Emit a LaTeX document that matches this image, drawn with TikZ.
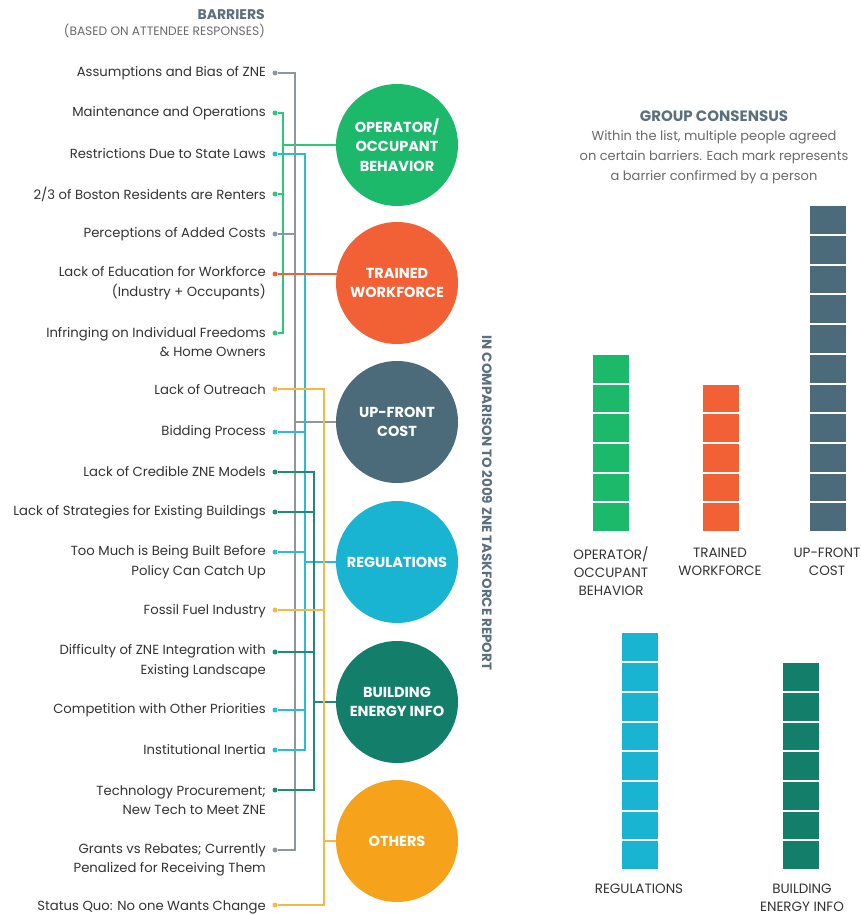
\documentclass[tikz,border=0pt]{standalone}
\usepackage{fontspec}
\setmainfont{Poppins}
\usetikzlibrary{backgrounds}
\definecolor{cgreen}{HTML}{1DB96B}
\definecolor{cred}{HTML}{F26035}
\definecolor{cslate}{HTML}{4B6A7A}
\definecolor{ccyan}{HTML}{19B4D1}
\definecolor{cteal}{HTML}{137F6B}
\definecolor{corange}{HTML}{F6A31B}
\definecolor{lgray}{HTML}{8D979D}
\definecolor{lgreen}{HTML}{2DC97A}
\definecolor{lcyan}{HTML}{2ABBD6}
\definecolor{lteal}{HTML}{1F8C78}
\definecolor{lorange}{HTML}{F8B848}
\definecolor{txt}{HTML}{333333}
\definecolor{head}{HTML}{5B6F7D}
\definecolor{sub}{HTML}{6A6A6A}
\begin{document}
\begin{tikzpicture}[x=1pt,y=-1pt,
  lbl/.style={font=\fontsize{13.2}{19.5}\selectfont, text=txt, align=right, anchor=east, inner sep=0pt},
  dotm/.style={circle, fill=#1, inner sep=0pt, minimum size=5pt},
  circ/.style={circle, fill=#1, minimum size=122pt, inner sep=0pt, text=white, font=\bfseries\fontsize{14.5}{19.5}\selectfont, align=center},
  conn/.style={line width=1.5pt, draw=#1},
  barlbl/.style={font=\fontsize{13.5}{18}\selectfont, text=txt, align=center, inner sep=0pt}]
\useasboundingbox (0,0) rectangle (861,915);

% header
\node[anchor=east, inner sep=0pt, text=head, font=\bfseries\fontsize{14}{15}\selectfont] (hbar) at (265,15) {BARRIERS};
\node[anchor=east, inner sep=0pt, text=sub, font=\fontsize{12.2}{13}\selectfont] (hsub) at (265,31) {(BASED ON ATTENDEE RESPONSES)};

% labels
\node[lbl] (l1) at (266,73) {Assumptions and Bias of ZNE};
\node[lbl] (l2) at (266,113) {Maintenance and Operations};
\node[lbl] (l3) at (266,154) {Restrictions Due to State Laws};
\node[lbl] (l4) at (266,194) {2/3 of Boston Residents are Renters};
\node[lbl] (l5) at (266,234) {Perceptions of Added Costs};
\node[lbl] (l6) at (266,283) {Lack of Education for Workforce\\(Industry + Occupants)};
\node[lbl] (l7) at (266,342) {Infringing on Individual Freedoms\\\& Home Owners};
\node[lbl] (l8) at (266,390) {Lack of Outreach};
\node[lbl] (l9) at (266,432) {Bidding Process};
\node[lbl] (l10) at (266,472) {Lack of Credible ZNE Models};
\node[lbl] (l11) at (266,512) {Lack of Strategies for Existing Buildings};
\node[lbl] (l12) at (266,562) {Too Much is Being Built Before\\Policy Can Catch Up};
\node[lbl] (l13) at (266,611) {Fossil Fuel Industry};
\node[lbl] (l14) at (266,661) {Difficulty of ZNE Integration with\\Existing Landscape};
\node[lbl] (l15) at (266,710) {Competition with Other Priorities};
\node[lbl] (l16) at (266,750) {Institutional Inertia};
\node[lbl] (l17) at (266,800) {Technology Procurement;\\New Tech to Meet ZNE};
\node[lbl] (l18) at (266,860) {Grants vs Rebates; Currently\\Penalized for Receiving Them};
\node[lbl] (l19) at (266,907) {Status Quo: No one Wants Change};

% dots
\node[dotm=lgray] (d1) at (275,73) {};
\node[dotm=lgreen] (d2) at (275,113) {};
\node[dotm=lcyan] (d3) at (275,154) {};
\node[dotm=lgreen] (d4) at (275,194) {};
\node[dotm=lgray] (d5) at (275,234) {};
\node[dotm=cred] (d6) at (275,274) {};
\node[dotm=lgreen] (d7) at (275,333) {};
\node[dotm=lorange] (d8) at (275,389) {};
\node[dotm=lcyan] (d9) at (275,432) {};
\node[dotm=lteal] (d10) at (275,472) {};
\node[dotm=lteal] (d11) at (275,512) {};
\node[dotm=lcyan] (d12) at (275,552) {};
\node[dotm=lorange] (d13) at (275,610) {};
\node[dotm=lteal] (d14) at (275,652) {};
\node[dotm=lcyan] (d15) at (275,710) {};
\node[dotm=lcyan] (d16) at (275,750) {};
\node[dotm=lteal] (d17) at (275,790) {};
\node[dotm=lgray] (d18) at (275,850) {};
\node[dotm=lorange] (d19) at (275,905) {};

% circles
\node[circ=cgreen] (c1) at (397,145) {OPERATOR/\\OCCUPANT\\BEHAVIOR};
\node[circ=cred] (c2) at (397,283) {TRAINED\\WORKFORCE};
\node[circ=cslate] (c3) at (397,422) {UP-FRONT\\COST};
\node[circ=ccyan] (c4) at (397,562) {REGULATIONS};
\node[circ=cteal] (c5) at (397,702) {BUILDING\\ENERGY INFO};
\node[circ=corange, text=white] (c6) at (397,841) {OTHERS};

% bus x positions
\coordinate (bgreen) at (283,0);
\coordinate (bgray) at (295,0);
\coordinate (bcyan) at (305,0);
\coordinate (bteal) at (314,0);
\coordinate (borange) at (324,0);

\begin{scope}[on background layer]
\fill[white] (0,0) rectangle (861,915);
% green
\draw[conn=lgreen] (d2) -- (d2 -| bgreen) -- (d7 -| bgreen) -- (d7);
\draw[conn=lgreen] (d4) -- (d4 -| bgreen);
\draw[conn=lgreen] (c1 -| bgreen) -- (c1);
% gray
\draw[conn=lgray] (d1) -- (d1 -| bgray) -- (d18 -| bgray) -- (d18);
\draw[conn=lgray] (d5) -- (d5 -| bgray);
\draw[conn=lgray] (c3 -| bgray) -- (c3);
% cyan
\draw[conn=lcyan] (d3) -- (d3 -| bcyan) -- (d16 -| bcyan) -- (d16);
\draw[conn=lcyan] (d9) -- (d9 -| bcyan);
\draw[conn=lcyan] (d12) -- (d12 -| bcyan);
\draw[conn=lcyan] (d15) -- (d15 -| bcyan);
\draw[conn=lcyan] (c4 -| bcyan) -- (c4);
% teal
\draw[conn=lteal] (d10) -- (d10 -| bteal) -- (d17 -| bteal) -- (d17);
\draw[conn=lteal] (d11) -- (d11 -| bteal);
\draw[conn=lteal] (d14) -- (d14 -| bteal);
\draw[conn=lteal] (c5 -| bteal) -- (c5);
% orange
\draw[conn=lorange] (d8) -- (d8 -| borange) -- (d19 -| borange) -- (d19);
\draw[conn=lorange] (d13) -- (d13 -| borange);
\draw[conn=lorange] (c6 -| borange) -- (c6);
% red
\draw[conn=cred] (d6) -- (d6 -| c2);
\end{scope}

% vertical caption
\node[rotate=-90, inner sep=0pt, text=head, font=\bfseries\fontsize{13.5}{15}\selectfont] (vt) at (487,503) {IN COMPARISON TO 2009 ZNE TASKFORCE REPORT};

% group consensus
\node[inner sep=0pt, text=head, font=\bfseries\fontsize{15}{16}\selectfont] (gct) at (714,116) {GROUP CONSENSUS};
\node[inner sep=0pt, text=sub, align=center, font=\fontsize{13}{20}\selectfont] (gcs) at (714,157) {Within the list, multiple people agreed\\on certain barriers. Each mark represents\\a barrier confirmed by a person};

% bars
\foreach \bx/\bn/\bcol/\bb in {593/6/cgreen/532, 703/5/cred/532, 810/11/cslate/532, 622/8/ccyan/870, 783/7/cteal/870}{
  \foreach \i in {1,...,\bn}{
    \fill[fill=\bcol] (\bx,{\bb-(\i-1)*29.7-1}) rectangle ({\bx+36},{\bb-\i*29.7+1});
  }
}

% bar labels
\node[barlbl] (b1) at (611,571) {OPERATOR/\\OCCUPANT\\BEHAVIOR};
\node[barlbl] (b2) at (720,562) {TRAINED\\WORKFORCE};
\node[barlbl] (b3) at (827,562) {UP-FRONT\\COST};
\node[barlbl] (b4) at (639,889) {REGULATIONS};
\node[barlbl] (b5) at (802,898) {BUILDING\\ENERGY INFO};
\end{tikzpicture}
\end{document}
